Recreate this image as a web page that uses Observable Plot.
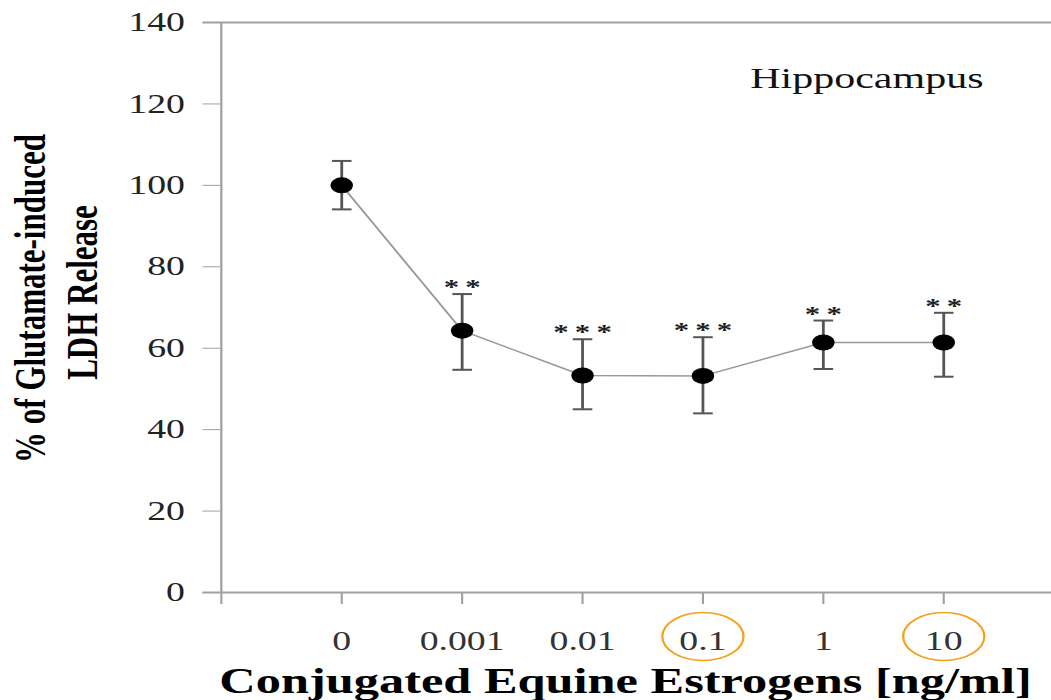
<!DOCTYPE html>
<html>
<head>
<meta charset="utf-8">
<script src="https://cdn.jsdelivr.net/npm/d3@7"></script>
<script src="https://cdn.jsdelivr.net/npm/@observablehq/plot@0.6"></script>
<style>
  html, body { margin: 0; padding: 0; background: #fff; overflow: hidden; }
  #wrap { width: 751px; height: 700px; transform: scaleX(1.4); transform-origin: 0 0; }
</style>
</head>
<body>
<div id="wrap"></div>
<script>
// ---- data ----
const doses = ["0", "0.001", "0.01", "0.1", "1", "10"];
const meanLDH = [100, 64.3, 53.3, 53.2, 61.4, 61.4];
const errHigh = [106.0, 73.3, 62.2, 62.7, 66.8, 68.7];
const errLow = [94.1, 54.7, 45.0, 44.0, 54.9, 53.0];
const signif = ["", "**", "***", "***", "**", "**"];
const circledDoses = ["0.1", "10"];
const yTicks = [0, 20, 40, 60, 80, 100, 120, 140];
const panelLabel = "Hippocampus";
const xTitle = "Conjugated Equine Estrogens [ng/ml]";
const yTitle1 = "% of Glutamate-induced";
const yTitle2 = "LDH Release";

const rows = doses.map((d, i) => ({
  i, dose: d, mean: meanLDH[i], hi: errHigh[i], lo: errLow[i],
  sig: signif[i].split("").join("\u2009")
}));
const circledRows = rows.filter(r => circledDoses.includes(r.dose));

const capSymbol = { draw(ctx) { ctx.moveTo(-7, 0); ctx.lineTo(7, 0); } };
const ellipseSymbol = { draw(ctx) {
  const rx = 29, ry = 24, k = 0.5523;
  ctx.moveTo(rx, 0);
  ctx.bezierCurveTo(rx, ry * k, rx * k, ry, 0, ry);
  ctx.bezierCurveTo(-rx * k, ry, -rx, ry * k, -rx, 0);
  ctx.bezierCurveTo(-rx, -ry * k, -rx * k, -ry, 0, -ry);
  ctx.bezierCurveTo(rx * k, -ry, rx, -ry * k, rx, 0);
  ctx.closePath();
} };

const axisGray = "#a0a0a0";
const serif = "'Liberation Serif', 'Times New Roman', serif";

const chart = Plot.plot({
  width: 751,
  height: 700,
  marginLeft: 157.6,
  marginRight: 0,
  marginTop: 22,
  marginBottom: 108,
  style: { fontFamily: serif, fontSize: "27px", background: "#fff", color: "#222" },
  x: { type: "linear", domain: [-1, 5.9] },
  y: { domain: [0, 140] },
  marks: [
    // frame lines
    Plot.ruleY([0, 140], { x1: -1.15, x2: 5.9, stroke: axisGray, strokeWidth: 2 }),
    Plot.ruleX([-1], { stroke: axisGray, strokeWidth: 1.6 }),
    Plot.axisY({ ticks: yTicks, tickSize: 13, tickPadding: 13, stroke: axisGray, fill: "#222", label: null }),
    Plot.axisX({ ticks: [-1, 0, 1, 2, 3, 4, 5], tickFormat: i => i >= 0 ? doses[i] : "",
      tickSize: 12, tickPadding: 26, stroke: axisGray, strokeWidth: 1.5, fill: "#333", label: null }),
    // connecting line
    Plot.line(rows, { x: "i", y: "mean", stroke: "#999", strokeWidth: 1.5 }),
    // error bars
    Plot.ruleX(rows, { x: "i", y1: "lo", y2: "hi", stroke: "#555", strokeWidth: 2 }),
    Plot.dot(rows, { x: "i", y: "hi", symbol: capSymbol, stroke: "#555", strokeWidth: 2, fill: "none" }),
    Plot.dot(rows, { x: "i", y: "lo", symbol: capSymbol, stroke: "#555", strokeWidth: 2, fill: "none" }),
    // points
    Plot.dot(rows, { x: "i", y: "mean", r: 8, fill: "#000", stroke: "none" }),
    // significance stars
    Plot.text(rows.filter(r => r.sig), { x: "i", y: "hi", text: "sig", dy: -7, fontSize: 22, fontWeight: "bold", fill: "#222", fontFamily: serif }),
    // panel label
    Plot.text([panelLabel], { frameAnchor: "top-right", textAnchor: "end", lineAnchor: "middle", dx: -49, dy: 56, fontSize: 30, fill: "#111", fontFamily: serif }),
    // x title
    Plot.text([xTitle], { frameAnchor: "bottom", textAnchor: "middle", lineAnchor: "middle", dx: -8, dy: 88.5, fontSize: 36, fontWeight: "bold", fill: "#000", fontFamily: serif }),
    // y titles
    Plot.text([yTitle1], { frameAnchor: "left", textAnchor: "middle", lineAnchor: "middle", rotate: -90, dx: -135.6, dy: -9, fontSize: 31, fontWeight: "bold", fill: "#000", fontFamily: serif }),
    Plot.text([yTitle2], { frameAnchor: "left", textAnchor: "middle", lineAnchor: "middle", rotate: -90, dx: -98.6, dy: -15, fontSize: 31, fontWeight: "bold", fill: "#000", fontFamily: serif }),
    // orange annotation ellipses around highlighted tick labels
    Plot.dot(circledRows, { x: "i", frameAnchor: "bottom", dy: 44, symbol: ellipseSymbol, stroke: "#f5a018", strokeWidth: 1.6, fill: "none" })
  ]
});
document.getElementById("wrap").appendChild(chart);
</script>
</body>
</html>
